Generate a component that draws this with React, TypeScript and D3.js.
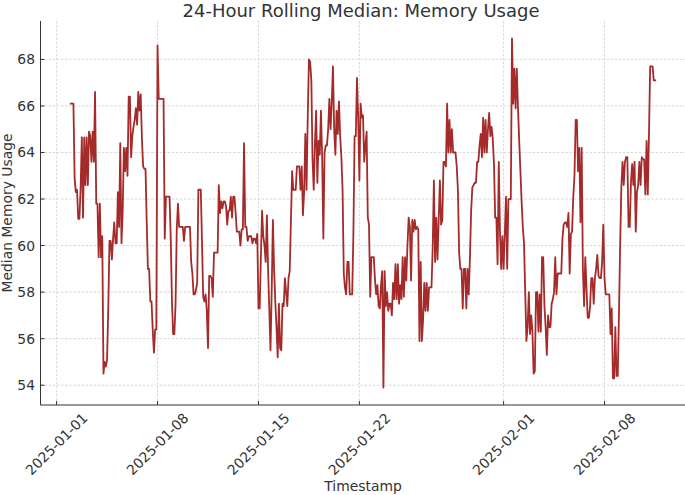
import { useEffect, useRef } from 'react';
import * as d3 from 'd3';

// 24h rolling median, one reading every 2 hours from 2025-01-01 22:00 (UTC)
const startHour = 22;
const stepHours = 2;

const week1 = [
  66.1, 66.1, 66.1, 66.1, 62.9, 62.3, 62.4, 61.15, 61.15, 62.5,
  64.65, 61.2, 64.65, 62.6, 64.65, 62.6, 64.9, 64.7, 63.6, 64.9,
  63.6, 66.6, 61.8, 61.8, 59.5, 61.8, 59.5, 60.4, 54.5, 55.0,
  54.8, 55.1, 57.3, 60.2, 60.2, 59.4, 60.3, 61.0, 60.1, 60.1,
  62.3, 60.8, 64.4, 60.1, 61.5, 64.2, 63.2, 64.2, 63.0, 66.4,
  66.4, 63.8, 64.7, 65.1, 65.4, 65.9, 65.2, 66.6, 65.8, 66.5,
  64.6, 63.4, 63.3, 63.3, 61.0, 59.0, 59.0, 57.6, 57.6, 56.4,
  55.4, 56.4, 56.4, 68.6, 66.3, 66.3, 66.3, 66.3, 66.3, 60.3,
  62.1, 62.1, 62.1, 62.1,
];
const week2 = [
  60.3, 57.6, 56.2, 56.2, 57.5, 60.7, 61.8, 60.8, 60.8, 60.8,
  60.8, 60.2, 60.8, 60.8, 60.8, 60.8, 60.8, 59.3, 58.8, 57.9,
  57.9, 58.1, 58.4, 62.4, 62.4, 62.4, 60.2, 57.8, 57.6, 57.9,
  57.2, 55.6, 58.7, 58.7, 58.6, 57.8, 59.7, 59.7, 59.7, 59.7,
  62.6, 61.4, 61.9, 61.6, 61.9, 61.9, 61.7, 60.9, 61.5, 61.5,
  62.1, 61.2, 62.1, 62.1, 61.4, 60.6, 60.6, 60.6, 60.0, 60.7,
  60.7, 64.4, 60.8, 60.8, 60.2, 60.4, 60.4, 60.4, 60.1, 60.3,
  60.3, 60.1, 60.5, 57.3, 57.3, 59.5, 61.5, 60.4, 60.0, 59.3,
  61.3, 59.0, 57.3, 55.5,
];
const week3 = [
  58.0, 61.1, 59.0, 57.6, 56.5, 55.2, 57.5, 55.6, 55.5, 57.5,
  57.4, 58.6, 58.0, 57.4, 58.6, 58.9, 61.0, 63.2, 62.4, 62.4,
  62.4, 63.4, 63.4, 63.4, 62.4, 63.4, 61.3, 62.3, 64.8, 62.4,
  65.5, 68.0, 67.9, 67.1, 63.7, 62.4, 64.4, 65.8, 62.7, 64.5,
  63.9, 65.8, 63.8, 60.3, 64.0, 64.3, 64.3, 65.0, 66.3, 65.0,
  66.2, 67.7, 65.0, 63.9, 65.8, 64.8, 66.2, 64.7, 63.8, 62.4,
  58.8, 58.2, 57.9, 59.3, 59.3, 57.9, 57.9, 57.9, 60.5, 64.7,
  64.7, 67.2, 65.5, 62.8, 66.1, 65.5, 65.6, 63.6, 64.3, 64.9,
  61.2, 60.9, 57.8, 59.5,
];
const week4 = [
  59.5, 59.5, 58.5, 57.9, 58.3, 57.4, 57.3, 58.3, 58.9, 53.9,
  58.9, 57.4, 58.0, 57.2, 57.5, 57.5, 57.0, 58.4, 57.7, 59.2,
  57.7, 59.2, 57.5, 58.3, 57.7, 59.5, 57.8, 59.5, 58.5, 60.0,
  61.2, 60.8, 58.5, 61.1, 60.6, 61.1, 60.7, 60.8, 60.7, 55.9,
  59.3, 55.9, 56.8, 58.4, 57.2, 58.4, 57.2, 58.2, 58.2, 58.2,
  59.9, 62.8, 59.3, 61.2, 59.4, 61.1, 62.8, 60.9, 61.1, 63.6,
  63.6, 63.4, 66.1, 64.0, 65.4, 64.0, 65.0, 64.0, 64.0, 64.0,
  63.4, 62.4, 59.7, 59.0, 59.0, 57.3, 59.0, 59.0, 57.3, 59.0,
  57.9, 59.5, 61.5, 62.5,
];
const week5 = [
  62.6, 62.7, 62.7, 63.6, 63.6, 64.3, 64.8, 63.8, 65.5, 64.0,
  65.4, 64.0, 65.0, 65.7, 64.7, 65.1, 64.6, 63.5, 61.2, 61.2,
  59.2, 63.6, 60.6, 59.0, 60.4, 59.0, 60.5, 62.1, 59.0, 62.0,
  62.0, 62.0, 68.9, 66.1, 67.6, 65.9, 67.6, 65.9, 64.5, 63.2,
  61.9, 60.8, 60.1, 58.0, 55.9, 56.5, 58.0, 56.2, 57.0, 56.3,
  54.5, 54.6, 58.0, 58.0, 56.3, 57.9, 56.3, 59.5, 59.5, 57.4,
  56.5, 55.3, 57.0, 56.5, 56.5, 57.5, 57.7, 58.0, 59.5, 57.9,
  58.8, 58.8, 58.8, 58.8, 60.3, 60.9, 61.0, 61.0, 60.8, 61.4,
  58.8, 60.5, 60.6, 62.1,
];
const week6 = [
  63.0, 65.4, 65.4, 63.2, 64.2, 61.0, 64.2, 59.0, 57.4, 59.5,
  58.2, 56.9, 56.9, 57.4, 58.6, 58.6, 57.5, 58.6, 59.0, 59.6,
  58.7, 58.6, 58.6, 59.3, 60.9, 58.6, 57.9, 57.9, 57.9, 57.9,
  56.2, 57.3, 54.3, 54.3, 56.5, 54.4, 54.4, 57.0, 60.0, 62.5,
  63.6, 62.6, 63.6, 63.8, 63.8, 60.8, 60.8, 62.7, 63.5, 62.6,
  63.6, 60.6, 62.3, 62.6, 63.6, 62.6, 63.8, 63.7, 63.7, 62.2,
  64.5, 62.2, 64.8, 67.7, 67.7, 67.7, 67.1, 67.1, 67.1,
];

const xTickLabels = ['2025-01-01', '2025-01-08', '2025-01-15', '2025-01-22', '2025-02-01', '2025-02-08'];
const yTickValues = [54, 56, 58, 60, 62, 64, 66, 68];

export default function App() {
  const svgRef = useRef(null);

  useEffect(() => {
    if (!svgRef.current) return;

    const width = 685;
    const height = 495;
    const left = 40.5;
    const right = 685.5;
    const top = 21;
    const bottom = 405;
    const font = 'DejaVu Sans, sans-serif';
    const ink = '#333333';

    const values = [...week1, ...week2, ...week3, ...week4, ...week5, ...week6];
    const t0 = Date.UTC(2025, 0, 1);
    const points = values.map((v, i) => ({
      t: new Date(t0 + (startHour + i * stepHours) * 3600 * 1000),
      v,
    }));

    const svg = d3.select(svgRef.current);
    svg.selectAll('*').remove();
    svg.attr('width', width).attr('height', height);

    svg.append('rect').attr('width', width).attr('height', height).attr('fill', 'white');

    // matplotlib-like 5% margins
    const [tMin, tMax] = d3.extent(points, d => +d.t);
    const tPad = (tMax - tMin) * 0.05;
    const x = d3.scaleUtc()
      .domain([new Date(tMin - tPad), new Date(tMax + tPad)])
      .range([left, right]);

    const [vMin, vMax] = d3.extent(points, d => d.v);
    const vPad = (vMax - vMin) * 0.05;
    const y = d3.scaleLinear()
      .domain([vMin - vPad, vMax + vPad])
      .range([bottom, top]);

    const xTicks = xTickLabels.map(s => new Date(s + 'T00:00:00Z'));

    // grid
    const grid = svg.append('g');
    grid.selectAll('.gx')
      .data(xTicks)
      .enter()
      .append('line')
      .attr('x1', d => x(d)).attr('x2', d => x(d))
      .attr('y1', top).attr('y2', bottom)
      .attr('stroke', '#cfcfcf').attr('stroke-width', 0.8)
      .attr('stroke-dasharray', '2.5,1.6');
    grid.selectAll('.gy')
      .data(yTickValues)
      .enter()
      .append('line')
      .attr('x1', left).attr('x2', right)
      .attr('y1', d => y(d)).attr('y2', d => y(d))
      .attr('stroke', '#cfcfcf').attr('stroke-width', 0.8)
      .attr('stroke-dasharray', '2.5,1.6');

    // line
    const line = d3.line()
      .x(d => x(d.t))
      .y(d => y(d.v));
    svg.append('path')
      .datum(points)
      .attr('d', line)
      .attr('fill', 'none')
      .attr('stroke', '#a52a2a')
      .attr('stroke-width', 1.8)
      .attr('stroke-linejoin', 'round');

    // spines
    svg.append('line')
      .attr('x1', left).attr('x2', left).attr('y1', top).attr('y2', bottom)
      .attr('stroke', ink).attr('stroke-width', 1);
    svg.append('line')
      .attr('x1', left).attr('x2', right).attr('y1', bottom).attr('y2', bottom)
      .attr('stroke', ink).attr('stroke-width', 1);

    // y ticks
    const yt = svg.append('g');
    yt.selectAll('line')
      .data(yTickValues)
      .enter()
      .append('line')
      .attr('x1', left).attr('x2', left + 4)
      .attr('y1', d => y(d)).attr('y2', d => y(d))
      .attr('stroke', ink);
    yt.selectAll('text')
      .data(yTickValues)
      .enter()
      .append('text')
      .attr('x', left - 5.5)
      .attr('y', d => y(d))
      .attr('dy', '0.36em')
      .attr('text-anchor', 'end')
      .attr('font-family', font)
      .attr('font-size', 13.9)
      .attr('fill', ink)
      .text(d => d);

    // x ticks
    const xt = svg.append('g');
    xt.selectAll('line')
      .data(xTicks)
      .enter()
      .append('line')
      .attr('x1', d => x(d)).attr('x2', d => x(d))
      .attr('y1', bottom).attr('y2', bottom - 4)
      .attr('stroke', ink);
    xt.selectAll('text')
      .data(xTicks)
      .enter()
      .append('text')
      .attr('transform', d => `translate(${x(d)},${bottom + 39}) rotate(-45)`)
      .attr('text-anchor', 'middle')
      .attr('dy', '0.35em')
      .attr('font-family', font)
      .attr('font-size', 13.9)
      .attr('fill', ink)
      .text((d, i) => xTickLabels[i]);

    // labels
    svg.append('text')
      .attr('x', (left + right) / 2)
      .attr('y', 490.5)
      .attr('text-anchor', 'middle')
      .attr('font-family', font)
      .attr('font-size', 13.9)
      .attr('fill', ink)
      .text('Timestamp');

    svg.append('text')
      .attr('transform', `translate(11.5,${(top + bottom) / 2}) rotate(-90)`)
      .attr('text-anchor', 'middle')
      .attr('font-family', font)
      .attr('font-size', 13.9)
      .attr('fill', ink)
      .text('Median Memory Usage');

    svg.append('text')
      .attr('x', 361)
      .attr('y', 16.5)
      .attr('text-anchor', 'middle')
      .attr('font-family', font)
      .attr('font-size', 18)
      .attr('fill', ink)
      .text('24-Hour Rolling Median: Memory Usage');
  }, []);

  return <svg ref={svgRef} style={{ position: 'absolute', left: 0, top: 0 }} />;
}
